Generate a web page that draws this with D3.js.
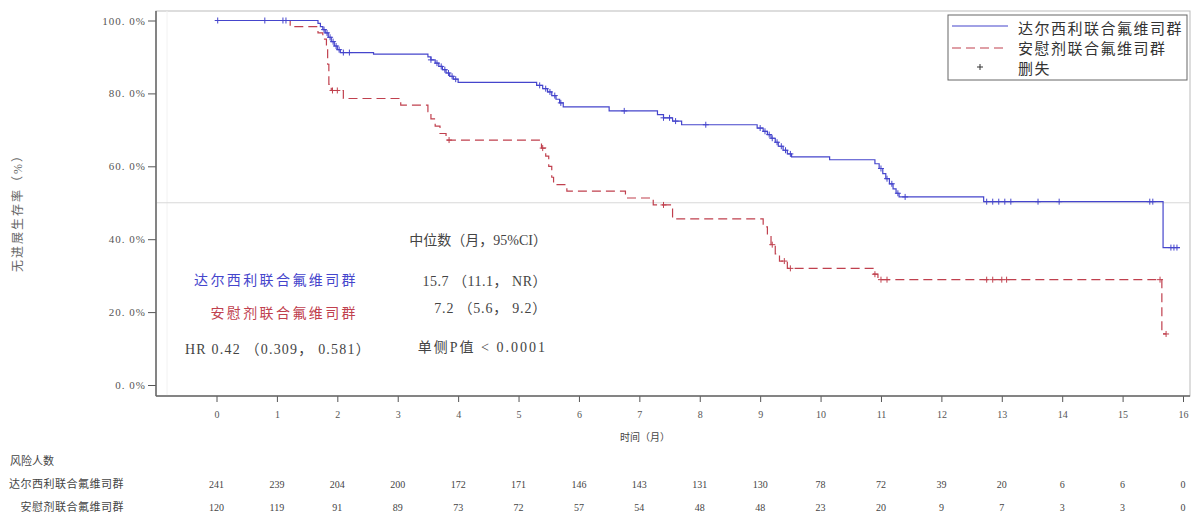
<!DOCTYPE html>
<html>
<head>
<meta charset="utf-8">
<script src="https://cdn.jsdelivr.net/npm/d3@7"></script>
<style>
  body { margin: 0; background: #fff; }
  svg text { font-family: "Liberation Serif", "Noto Sans CJK SC", serif; }
</style>
</head>
<body>
<svg id="chart"></svg>
<script>
const width = 1193, height = 519;

// data
const armNames = ["达尔西利联合氟维司群", "安慰剂联合氟维司群"];
const xTicks = d3.range(0, 17);
const yTicks = [0, 20, 40, 60, 80, 100];

// [month, survival %] after each event
const dalSteps = [
  [0, 100], [1.68, 99.2], [1.72, 98.3], [1.76, 97.5], [1.8, 96.6], [1.85, 95.4], [1.9, 94.2],
  [1.95, 93.0], [2.0, 92.0], [2.05, 91.2], [2.6, 90.8], [3.5, 90.0], [3.55, 89.2], [3.62, 88.3],
  [3.68, 87.4], [3.74, 86.5], [3.8, 85.6], [3.86, 84.7], [3.92, 83.9], [4.0, 83.0], [5.3, 82.2],
  [5.4, 81.3], [5.48, 80.4], [5.55, 79.4], [5.62, 78.4], [5.68, 77.4], [5.74, 76.3], [6.5, 75.2],
  [7.3, 74.2], [7.4, 73.3], [7.55, 72.4], [7.7, 71.4], [8.95, 70.5], [9.05, 69.6], [9.12, 68.7],
  [9.18, 67.7], [9.25, 66.6], [9.3, 65.5], [9.38, 64.4], [9.45, 63.4], [9.52, 62.6], [10.15, 61.8],
  [10.9, 60.7], [10.97, 59.4], [11.03, 58.0], [11.08, 56.6], [11.14, 55.2], [11.2, 53.8],
  [11.25, 52.6], [11.3, 51.6], [12.7, 50.3], [15.67, 37.7], [15.95, 37.7]
];
const dalCensor = [0.02, 0.8, 1.1, 1.15, 1.78, 1.83, 1.88, 1.93, 1.98, 2.03, 2.1, 2.2, 3.55, 3.65,
  3.72, 3.78, 3.84, 3.9, 3.96, 5.35, 5.45, 5.52, 5.6, 5.7, 6.75, 7.4, 7.5, 7.6, 8.1, 9.0, 9.08,
  9.15, 9.2, 9.28, 9.35, 9.42, 9.5, 11.0, 11.1, 11.18, 11.28, 11.4, 12.75, 12.85, 12.95, 13.05,
  13.15, 13.6, 13.95, 15.45, 15.5, 15.8, 15.85, 15.9];

const plcSteps = [
  [0, 100], [1.22, 98.3], [1.68, 96.6], [1.76, 94.9], [1.82, 93.1], [1.84, 88.0], [1.86, 82.5],
  [1.9, 80.8], [2.1, 78.6], [3.05, 76.8], [3.5, 75.0], [3.55, 73.0], [3.62, 71.0], [3.7, 69.0],
  [3.8, 67.2], [5.38, 65.0], [5.45, 62.8], [5.5, 60.0], [5.55, 57.0], [5.58, 55.0], [5.8, 53.2],
  [6.77, 51.3], [7.23, 49.4], [7.55, 45.6], [9.05, 43.4], [9.12, 41.2], [9.18, 38.5], [9.25, 36.0],
  [9.32, 34.0], [9.45, 32.0], [10.88, 30.4], [10.95, 28.9], [15.65, 14.0], [15.72, 14.0]
];
const plcCensor = [1.92, 2.0, 3.85, 5.4, 7.4, 9.2, 9.4, 9.5, 10.9, 11.0, 11.1, 12.75, 12.85,
  13.0, 13.08, 15.62, 15.72];

const atRiskDal = [241, 239, 204, 200, 172, 171, 146, 143, 131, 130, 78, 72, 39, 20, 6, 6, 0];
const atRiskPlc = [120, 119, 91, 89, 73, 72, 57, 54, 48, 48, 23, 20, 9, 7, 3, 3, 0];

const blue = "#4545cc", red = "#c0404e", ink = "#444";

const svg = d3.select("#chart")
    .attr("width", width)
    .attr("height", height);

const x = d3.scaleLinear().domain([0, 16]).range([216.5, 1183]);
const y = d3.scaleLinear().domain([0, 100]).range([385, 20.5]);

const plotL = 156, plotR = 1190, plotT = 11, plotB = 396;

// frame
svg.append("rect")
    .attr("x", plotL).attr("y", plotT)
    .attr("width", plotR - plotL).attr("height", plotB - plotT)
    .attr("fill", "none").attr("stroke", "#bbb");
svg.append("line")
    .attr("x1", 167).attr("x2", 167).attr("y1", plotT).attr("y2", plotB)
    .attr("stroke", "#f2f2f2");

// 50% reference line
svg.append("line")
    .attr("x1", plotL).attr("x2", plotR)
    .attr("y1", y(50)).attr("y2", y(50))
    .attr("stroke", "#d8d8d8");

// axes
const yAxis = svg.append("g")
    .attr("transform", `translate(${plotL},0)`)
    .call(d3.axisLeft(y).tickValues(yTicks).tickSize(8).tickSizeOuter(0)
        .tickFormat(d => d.toFixed(1).replace(".", ". ") + "%"));
const xAxis = svg.append("g")
    .attr("transform", `translate(0,${plotB})`)
    .call(d3.axisBottom(x).tickValues(xTicks).tickSize(6).tickSizeOuter(0));

[yAxis, xAxis].forEach(a => {
    a.select(".domain").remove();
    a.selectAll(".tick line").attr("stroke", "#555");
    a.selectAll("text").style("font-size", "10px").style("fill", "#555");
});
yAxis.selectAll("text").style("font-size", "11px").style("letter-spacing", "1px").attr("x", -10);
xAxis.selectAll("text").attr("dy", "1.3em");
svg.append("line").attr("x1", plotL).attr("x2", plotL).attr("y1", plotT).attr("y2", plotB)
    .attr("stroke", "#666").attr("stroke-width", 1.5);
svg.append("line").attr("x1", plotL).attr("x2", plotR).attr("y1", plotB).attr("y2", plotB)
    .attr("stroke", "#666").attr("stroke-width", 1.5);

// axis titles
svg.append("text")
    .attr("transform", `translate(22,${y(48)}) rotate(-90)`)
    .attr("text-anchor", "middle")
    .style("font-size", "12px")
    .style("letter-spacing", "2px")
    .style("fill", "#666")
    .text("无进展生存率（%）");
svg.append("text")
    .attr("x", 645).attr("y", 441)
    .attr("text-anchor", "middle")
    .style("font-size", "10px")
    .style("fill", ink)
    .text("时间（月）");

// KM curves
const line = d3.line()
    .x(d => x(d[0]))
    .y(d => y(d[1]))
    .curve(d3.curveStepAfter);

function survAt(steps, t) {
    let s = 100;
    for (const d of steps) { if (d[0] <= t) s = d[1]; }
    return s;
}

function drawArm(steps, censor, color, dash) {
    svg.append("path")
        .datum(steps)
        .attr("d", line)
        .attr("fill", "none")
        .attr("stroke", color)
        .attr("stroke-width", 1.2)
        .attr("stroke-dasharray", dash);
    svg.append("g").selectAll("path")
        .data(censor)
        .join("path")
        .attr("d", t => {
            const cx = x(t), cy = y(survAt(steps, t));
            return `M${cx - 3},${cy}h6M${cx},${cy - 3}v6`;
        })
        .attr("stroke", color)
        .attr("stroke-width", 1);
}

drawArm(plcSteps, plcCensor, red, "9,5");
drawArm(dalSteps, dalCensor, blue, null);

// legend
const lg = svg.append("g");
lg.append("rect")
    .attr("x", 948).attr("y", 15).attr("width", 239).attr("height", 65)
    .attr("fill", "#fff").attr("stroke", "#666");
lg.append("line").attr("x1", 952).attr("x2", 1008).attr("y1", 26).attr("y2", 26)
    .attr("stroke", blue).attr("stroke-width", 1.2);
lg.append("line").attr("x1", 952).attr("x2", 1008).attr("y1", 48).attr("y2", 48)
    .attr("stroke", red).attr("stroke-width", 1.2).attr("stroke-dasharray", "9,5");
lg.append("path").attr("d", "M977,67h6M980,64v6").attr("stroke", "#333");
const legendLabels = [armNames[0], armNames[1], "删失"];
lg.selectAll("text.lab")
    .data(legendLabels)
    .join("text")
    .attr("x", 1018)
    .attr("y", (d, i) => 34 + i * 20)
    .style("font-size", "15px")
    .style("letter-spacing", "1.5px")
    .style("fill", "#333")
    .text(d => d);

// median / HR annotation
const annRight = 547, annLabel = 358;
const ann = svg.append("g").style("font-size", "14px").style("fill", ink);
ann.append("text").attr("x", annRight).attr("y", 245).attr("text-anchor", "end")
    .text("中位数（月，95%CI）");
ann.append("text").attr("x", annLabel).attr("y", 285).attr("text-anchor", "end")
    .style("fill", blue).style("letter-spacing", "2.4px").text(armNames[0]);
ann.append("text").attr("x", annRight).attr("y", 286).attr("text-anchor", "end")
    .style("letter-spacing", "0.5px").text("15.7 （11.1， NR）");
ann.append("text").attr("x", annLabel).attr("y", 318).attr("text-anchor", "end")
    .style("fill", red).style("letter-spacing", "2.4px").text(armNames[1]);
ann.append("text").attr("x", annRight).attr("y", 313).attr("text-anchor", "end")
    .style("letter-spacing", "0.8px").text("7.2 （5.6， 9.2）");
ann.append("text").attr("x", 185).attr("y", 354)
    .style("letter-spacing", "1.2px").text("HR 0.42 （0.309， 0.581）");
ann.append("text").attr("x", annRight).attr("y", 352).attr("text-anchor", "end")
    .style("letter-spacing", "2px").text("单侧P值 < 0.0001");

// number at risk
const risk = svg.append("g").style("font-size", "10px").style("fill", ink);
risk.append("text").attr("x", 10).attr("y", 465).style("font-size", "11px").text("风险人数");
risk.append("text").attr("x", 124).attr("y", 488).attr("text-anchor", "end")
    .style("font-size", "11px").style("letter-spacing", "0.5px").text(armNames[0]);
risk.append("text").attr("x", 124).attr("y", 511).attr("text-anchor", "end")
    .style("font-size", "11px").style("letter-spacing", "0.5px").text(armNames[1]);
risk.selectAll("text.r1")
    .data(atRiskDal)
    .join("text")
    .attr("x", (d, i) => x(xTicks[i]))
    .attr("y", 488)
    .attr("text-anchor", "middle")
    .text(d => d);
risk.selectAll("text.r2")
    .data(atRiskPlc)
    .join("text")
    .attr("x", (d, i) => x(xTicks[i]))
    .attr("y", 511)
    .attr("text-anchor", "middle")
    .text(d => d);
</script>
</body>
</html>
